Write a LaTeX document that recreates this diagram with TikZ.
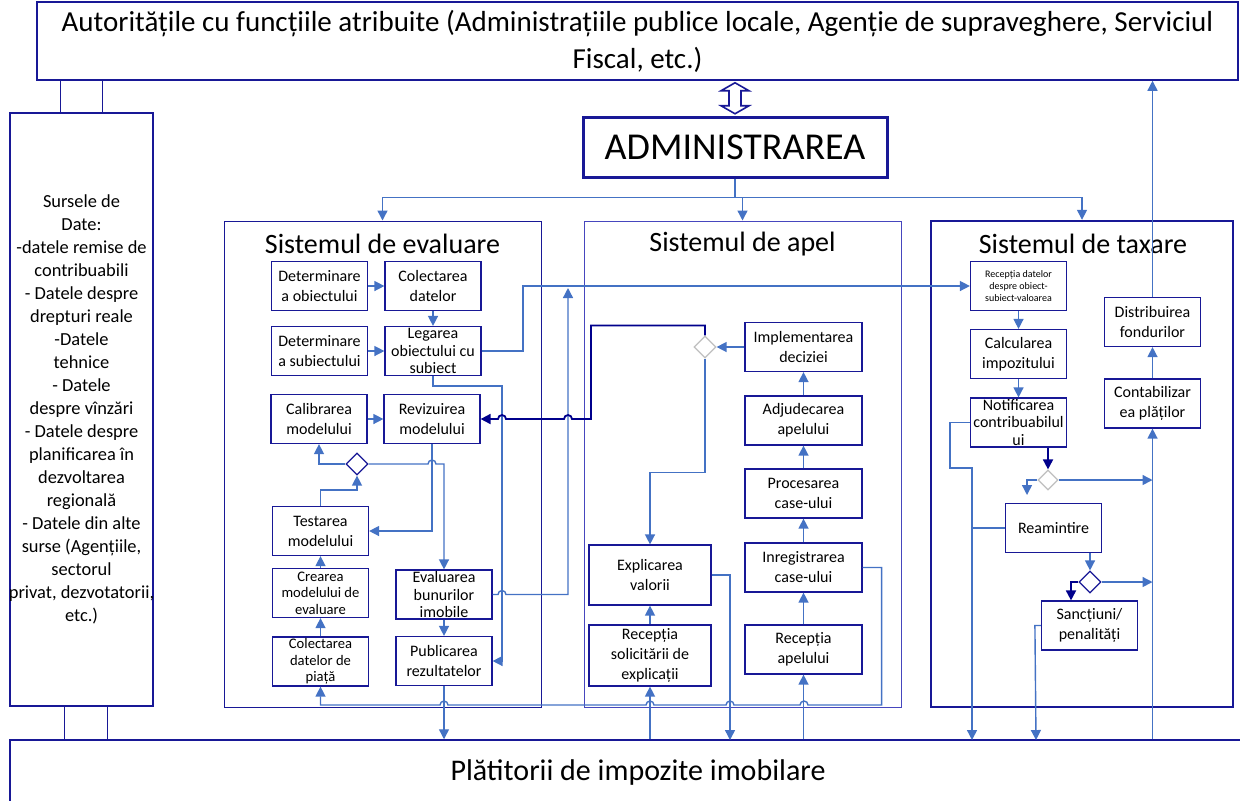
\documentclass[tikz,border=0pt]{standalone}
\usepackage{fontspec}
\setmainfont{Carlito}
\usetikzlibrary{arrows.meta, shapes.geometric}
\definecolor{boxblue}{RGB}{24,24,150}
\definecolor{apelblue}{RGB}{70,70,190}
\definecolor{lineblue}{RGB}{68,114,196}
\definecolor{darkarr}{RGB}{0,0,140}

\begin{document}
\begin{tikzpicture}
  [x=0.5pt, y=-0.5pt, >={Triangle[length=5pt,width=5pt]},
   box/.style={rectangle, draw=boxblue, line width=0.6pt, fill=white, align=center,
     minimum width=48pt, minimum height=24.5pt, inner sep=1pt,
     font=\fontsize{8}{10}\selectfont},
   three/.style={font=\fontsize{8}{8.6}\selectfont, inner sep=0pt},
   small/.style={font=\fontsize{7.3}{8.3}\selectfont, inner sep=0pt},
   system/.style={rectangle, draw=boxblue, line width=0.5pt,
     minimum width=158.5pt, minimum height=243pt},
   title/.style={font=\fontsize{14}{16}\selectfont},
   choice/.style={diamond, draw=boxblue, line width=0.6pt, fill=white,
     minimum width=11pt, minimum height=11pt, inner sep=0pt},
   flow/.style={draw=lineblue, line width=0.7pt},
   dark/.style={draw=darkarr, line width=0.9pt}]
  \useasboundingbox (0,0) rectangle (1240,800);

  % outer boxes
  \node (top) at (637.5,41) [rectangle, draw=boxblue, line width=0.75pt, minimum width=600.5pt,
    minimum height=39pt, align=center, font=\fontsize{14.5}{18.5}\selectfont]
    {Autoritățile cu funcțiile atribuite (Administrațiile publice locale, Agenție de supraveghere, Serviciul\\Fiscal, etc.)};
  \node (plat) at (638,772) [rectangle, draw=boxblue, line width=0.75pt, minimum width=628pt,
    minimum height=32pt, font=\fontsize{15}{18}\selectfont] {Plătitorii de impozite imobilare};
  \node (src) at (81.5,409.5) [rectangle, draw=boxblue, line width=0.75pt, minimum width=71.5pt,
    minimum height=296.5pt] {};
  \node (srctext) at (src.center) [align=center, font=\fontsize{9.2}{11.5}\selectfont]
    {Sursele de\\Date:\\-datele remise de\\contribuabili\\- Datele despre\\drepturi reale\\-Datele\\tehnice\\- Datele\\despre vînzări\\- Datele despre\\planificarea în\\dezvoltarea\\regională\\- Datele din alte\\surse (Agențiile,\\sectorul\\privat, dezvotatorii,\\etc.)};
  \node (admin) at (735,147) [rectangle, draw=boxblue, line width=1.5pt, minimum width=152pt,
    minimum height=30pt, font=\fontsize{19}{22}\selectfont] {ADMINISTRAREA};

  % systems
  \node (evalsys) at (382.5,464) [system] {};
  \node (apelsys) at (742.5,464) [system, draw=apelblue] {};
  \node (taxsys) at (1082,464) [system, minimum width=151pt, line width=1.2pt] {};
  \node (evaltitle) at (382.5,244) [title] {Sistemul de evaluare};
  \node (apeltitle) at (742.5,244) [title] {Sistemul de apel};
  \node (taxtitle) at (1083,244) [title] {Sistemul de taxare};

  % evaluare
  \node (detobj) at (319.5,286) [box] {Determinare\\a obiectului};
  \node (coldat) at (433,286) [box] {Colectarea\\datelor};
  \node (detsub) at (319.5,351) [box] {Determinare\\a subiectului};
  \node (legare) at (433,351) [box, three] {Legarea\\obiectului cu\\subiect};
  \node (calib) at (319,419) [box] {Calibrarea\\modelului};
  \node (reviz) at (432,419) [box] {Revizuirea\\modelului};
  \node (deval) at (357,464) [choice] {};
  \node (test) at (320.5,531) [box] {Testarea\\modelului};
  \node (creare) at (320.5,593) [box, small] {Crearea\\modelului de\\evaluare};
  \node (colpiata) at (320.5,661.5) [box, small] {Colectarea\\datelor de\\piață};
  \node (evalbun) at (444,594.5) [box, three] {Evaluarea\\bunurilor\\imobile};
  \node (public) at (444,661) [box] {Publicarea\\rezultatelor};

  % apel
  \node (implem) at (803.5,347) [box, minimum width=58.5pt] {Implementarea\\deciziei};
  \node (dapel) at (705,347) [choice, draw=gray!50] {};
  \node (adjud) at (803.5,420.5) [box, minimum width=58.5pt] {Adjudecarea\\apelului};
  \node (proces) at (803.5,493.5) [box, minimum width=58.5pt] {Procesarea\\case-ului};
  \node (inreg) at (803.5,567.5) [box, minimum width=58.5pt] {Inregistrarea\\case-ului};
  \node (recapel) at (803.5,649.5) [box, minimum width=58.5pt] {Recepția\\apelului};
  \node (explic) at (650,575) [box, minimum width=61pt, minimum height=30pt] {Explicarea\\valorii};
  \node (recsol) at (650,655.5) [box, minimum width=61pt, minimum height=30.5pt] {Recepția\\solicitării de\\explicații};

  % taxare
  \node (recdat) at (1018.5,286) [box, font=\fontsize{5}{6}\selectfont] {Recepția datelor\\despre obiect-\\subiect-valoarea};
  \node (calc) at (1018.5,354) [box] {Calcularea\\impozitului};
  \node (notif) at (1018.5,422.5) [box, three] {Notificarea\\contribuabilul\\ui};
  \node (distrib) at (1152.5,322) [box] {Distribuirea\\fondurilor};
  \node (contab) at (1152.5,403.5) [box] {Contabilizar\\ea plăților};
  \node (dtax1) at (1048,480) [choice, draw=gray!50, minimum width=10pt, minimum height=10pt] {};
  \node (reamint) at (1053.5,528) [box] {Reamintire};
  \node (dtax2) at (1090,582) [choice] {};
  \node (sanct) at (1089.5,625.5) [box] {Sancțiuni/\\penalități};
  \coordinate (remin) at (1027,495);
  \coordinate (join) at (568,288);

  % links between outer boxes
  \draw [boxblue, line width=0.8pt, fill=white] (top.south -| admin.north) ++(0,2)
    -- ++(14,8) -- ++(-8,0) -- ++(0,15) -- ++(8,0) -- ++(-14,8) -- ++(-14,-8)
    -- ++(8,0) -- ++(0,-15) -- ++(-8,0) -- cycle;
  \draw [boxblue, line width=0.75pt] (src.north west) ++(51,0) -- ++(0,-33);
  \draw [boxblue, line width=0.75pt] (src.north west) ++(93,0) -- ++(0,-33);
  \draw [boxblue, line width=0.75pt] (src.south west) ++(55,0) -- ++(0,34);
  \draw [boxblue, line width=0.75pt] (src.south west) ++(98,0) -- ++(0,34);
  \draw [flow, ->] (admin.south) -- ++(0,19) coordinate (split) -| (evalsys.north);
  \draw [flow, ->] (split) -| (apelsys.north);
  \draw [flow, ->] (split) -| (taxsys.north);

  % evaluare flow
  \draw [flow, ->] (detobj) to (coldat);
  \draw [flow, ->] (coldat) to (legare);
  \draw [flow, ->] (detsub) to (legare);
  \draw [flow, ->] (calib) to (reviz);
  \draw [flow, ->] (reviz.south) |- (test.east);
  \draw [flow, ->] (test.north) -- ++(0,-16) -| (deval.south);
  \draw [flow, ->] (deval.west) -| (calib.south);
  \draw [flow, ->] (deval.east) -- (428,464) arc [start angle=180, end angle=0, radius=2pt] -| (evalbun.north);
  \draw [flow, ->] (creare) to (test);
  \draw [flow, ->] (colpiata) to (creare);
  \draw [flow, ->] (evalbun) to (public);
  \draw [flow, ->] (public.south) -- (plat.north -| public.south);
  \draw [flow, ->] (legare.south) -- ++(0,10) -| (502,661) -- (public.east);
  \draw [flow, ->] (legare.east) -- (523,351) |- (recdat.west);
  \draw [flow, ->] (evalbun.east) -- (498,594.5) arc [start angle=180, end angle=0, radius=2pt] -| (join);

  % apel flow
  \draw [flow, ->] (recapel) to (inreg);
  \draw [flow, ->] (inreg) to (proces);
  \draw [flow, ->] (proces) to (adjud);
  \draw [flow, ->] (adjud) to (implem);
  \draw [flow, ->] (implem) to (dapel);
  \draw [flow, ->] (dapel.south) -- ++(0,114) -| (explic.north);
  \draw [dark, ->] (dapel.north) -- ++(0,-10) -| (591,419) -- (572,419)
    arc [start angle=0, end angle=180, radius=2pt] -- (506,419)
    arc [start angle=0, end angle=180, radius=2pt] -- (reviz.east);
  \draw [flow, ->] (recsol) to (explic);
  \draw [flow, ->] (explic.east) -| (730,740);
  \draw [flow, ->] (plat.north -| recsol.south) -- (recsol.south);
  \draw [flow, ->] (plat.north -| recapel.south) -- (recapel.south);
  \draw [flow, ->] (inreg.east) -- ++(19,0) |- (808,705)
    arc [start angle=0, end angle=180, radius=2pt] -- (734,705)
    arc [start angle=0, end angle=180, radius=2pt] -- (654,705)
    arc [start angle=0, end angle=180, radius=2pt] -- (448,705)
    arc [start angle=0, end angle=180, radius=2pt] -| (colpiata.south);

  % taxare flow
  \draw [flow, ->] (recdat) to (calc);
  \draw [flow, ->] (calc) to (notif);
  \draw [dark, ->] (notif.south -| dtax1.north) -- (dtax1.north);
  \draw [flow, ->] (dtax1.west) -| (remin);
  \draw [flow, ->] (dtax1.east) -- (dtax1.east -| contab.south);
  \draw [flow, ->] (plat.north -| contab.south) -- (contab.south);
  \draw [flow, ->] (contab) to (distrib);
  \draw [flow, ->] (distrib.north) -- (distrib.north |- top.south);
  \draw [flow, ->] (reamint.south -| dtax2.north) -- (dtax2.north);
  \draw [flow, ->] (dtax2.east) -- (dtax2.east -| contab.south);
  \draw [dark, ->] (dtax2.west) -| ([xshift=-9.25pt]sanct.north);
  \draw [flow, ->] (notif.west) -- ++(-20,0) |- (972,468) -- (972,740);
  \draw [flow] (reamint.west) -- (972,528);
  \draw [flow, ->] (sanct.west) -- ++(-6,0) -- (1036,740);
\end{tikzpicture}
\end{document}
